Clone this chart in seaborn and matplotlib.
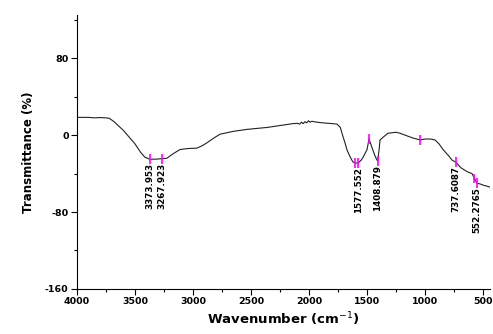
"""FTIR spectrum: transmittance vs wavenumber with labelled peaks."""

import matplotlib

matplotlib.use("Agg")
import matplotlib.pyplot as plt
import numpy as np
import pandas as pd
import seaborn as sns
from matplotlib.ticker import MultipleLocator

# spectrum
wavenumber = [
    4000, 3900, 3850, 3800, 3750, 3720, 3680, 3600, 3500, 3450, 3414, 3373,
    3320, 3267, 3224, 3180, 3112, 3050, 2966, 2920, 2880, 2820, 2767, 2650,
    2534, 2450, 2362, 2250, 2138, 2100, 2080, 2065, 2050, 2035, 2020, 2005,
    1991, 1975, 1960, 1900, 1800, 1759, 1730, 1716, 1690, 1672, 1640, 1621,
    1600, 1577, 1550, 1534, 1500, 1483, 1460, 1430, 1414, 1408, 1395, 1388,
    1350, 1319, 1250, 1216, 1150, 1103, 1043, 1000, 957, 914, 880, 845, 800,
    767, 737, 690, 638, 595, 575, 552, 520, 500, 440,
]
transmittance = [
    18.5, 18.5, 18.0, 18.3, 18.0, 17.5, 14.0, 5.0, -9.0, -18.0, -23.0, -25.0,
    -25.0, -24.5, -24.0, -20.0, -15.0, -14.0, -13.5, -11.0, -8.0, -3.0, 1.0, 4.0,
    6.0, 7.0, 8.0, 10.0, 12.0, 12.3, 11.5, 13.5, 12.0, 14.0, 12.8, 15.0,
    13.5, 14.5, 14.0, 13.0, 12.0, 11.5, 8.0, 2.0, -8.0, -15.6, -24.0, -28.0,
    -29.0, -29.0, -26.0, -23.0, -15.0, -4.0, -12.0, -22.0, -26.0, -27.0, -14.0, -5.0,
    -1.0, 2.0, 3.0, 2.0, -1.0, -3.0, -5.0, -4.0, -4.0, -5.0, -9.0, -15.0, -21.0,
    -26.0, -28.0, -34.0, -38.0, -40.0, -45.0, -50.0, -51.0, -52.0, -54.0,
]

# labelled peaks
peak_wn = [3373, 3267, 1577, 1408, 737, 552]
peak_val = [-25.0, -24.5, -29.0, -27.0, -28.0, -50.0]
peak_text = ["3373.953", "3267.923", "1577.552", "1408.879", "737.6087", "552.2765"]

# extra unlabelled markers
mark_wn = [1600, 1483, 1043, 575]
mark_val = [-29.0, -4.0, -5.0, -45.0]

df = pd.DataFrame({"wn": wavenumber, "T": transmittance})

sns.set_theme(style="ticks")
plt.rcParams["font.family"] = ["DejaVu Sans"]
plt.rcParams["axes.unicode_minus"] = False
plt.rcParams["text.color"] = "black"
plt.rcParams["axes.labelcolor"] = "black"
plt.rcParams["xtick.color"] = "black"
plt.rcParams["ytick.color"] = "black"

fig = plt.figure(figsize=(4.93, 3.34), dpi=100)
ax = fig.add_axes([0.156, 0.135, 0.838, 0.82])

sns.lineplot(data=df, x="wn", y="T", ax=ax, color="#222222", linewidth=0.8,
             sort=False, estimator=None)

ax.vlines(peak_wn + mark_wn, np.array(peak_val + mark_val) - 5,
          np.array(peak_val + mark_val) + 5, color="#ff00ff", linewidth=1.2)

for wn, val, txt in zip(peak_wn, peak_val, peak_text):
    ax.text(wn, val - 4, txt, rotation=90, ha="center", va="top",
            fontsize=6.3, fontweight="bold")

ax.set_xlim(4000, 440)
ax.set_ylim(-160, 125)
ax.xaxis.set_major_locator(MultipleLocator(500))
ax.xaxis.set_minor_locator(MultipleLocator(250))
ax.yaxis.set_major_locator(MultipleLocator(80))
ax.yaxis.set_minor_locator(MultipleLocator(40))
ax.tick_params(which="major", length=4, width=0.8, labelsize=6.8, pad=2)
ax.tick_params(which="minor", length=2, width=0.8)
for lab in ax.get_xticklabels() + ax.get_yticklabels():
    lab.set_fontweight("bold")

ax.set_xlabel("Wavenumber (cm$^{-1}$)", fontsize=9.5, fontweight="bold", labelpad=3)
ax.set_ylabel("Transmittance (%)", fontsize=8.5, fontweight="bold", labelpad=7)
sns.despine(ax=ax)
for s in ("left", "bottom"):
    ax.spines[s].set_linewidth(0.8)
    ax.spines[s].set_color("black")

fig.savefig("out.png", dpi=100)
plt.close(fig)
